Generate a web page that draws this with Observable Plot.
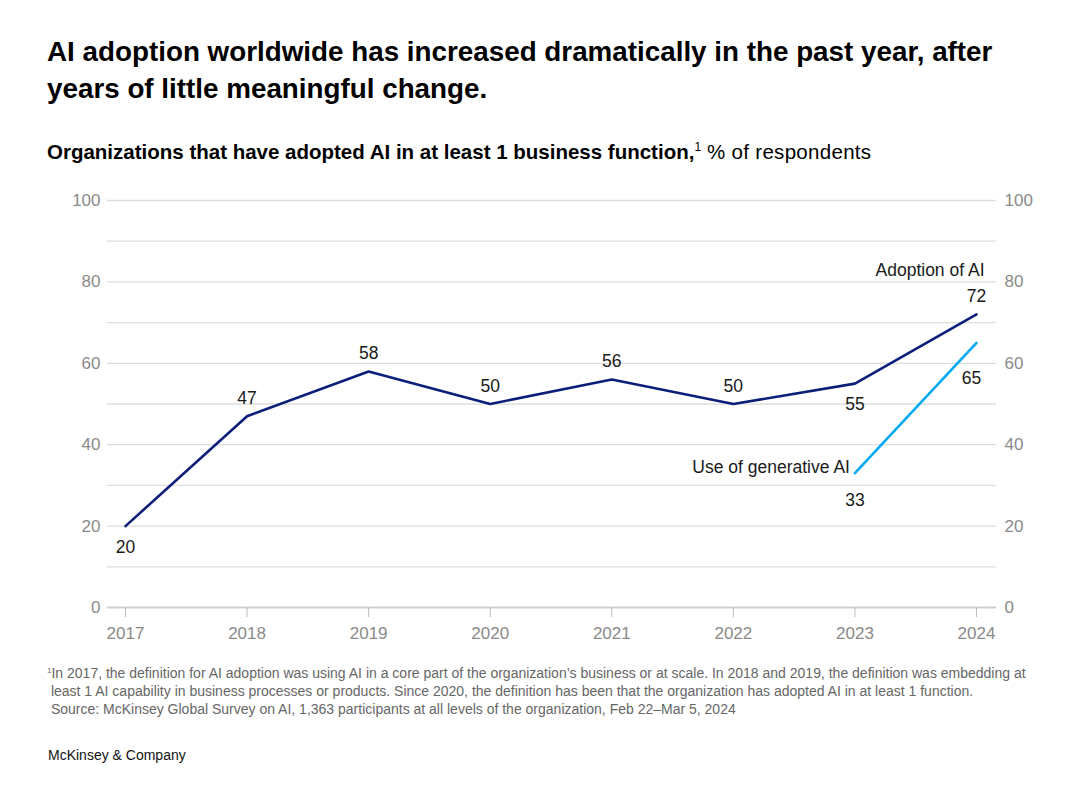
<!DOCTYPE html>
<html>
<head>
<meta charset="utf-8">
<script src="https://cdn.jsdelivr.net/npm/d3@7"></script>
<script src="https://cdn.jsdelivr.net/npm/@observablehq/plot@0.6"></script>
<style>
  html, body { margin: 0; padding: 0; background: #fff; }
  body { width: 1081px; height: 800px; position: relative; font-family: "Liberation Sans", Arial, sans-serif; color: #000; }
  #title { position: absolute; left: 47px; top: 33px; font-size: 27.8px; font-weight: bold; line-height: 37px; white-space: nowrap; }
  #subtitle { position: absolute; left: 47px; top: 139px; font-size: 20.5px; line-height: 26px; white-space: nowrap; }
  #subtitle b { font-weight: bold; }
  #subtitle .reg { letter-spacing: 0.3px; }
  #subtitle sup { font-size: 12px; vertical-align: 8px; line-height: 0; }
  #chart { position: absolute; left: 0; top: 180px; }
  #foot { position: absolute; left: 47px; top: 664px; font-size: 14px; line-height: 18px; color: #666; white-space: nowrap; }
  #foot sup { font-size: 8px; vertical-align: 5px; line-height: 0; }
  #brand { position: absolute; left: 48px; top: 747px; font-size: 14px; color: #111; }
</style>
</head>
<body>
<div id="title">AI adoption worldwide has increased dramatically in the past year, after<br>years of little meaningful change.</div>
<div id="subtitle"><b>Organizations that have adopted AI in at least 1 business function,</b><sup>1</sup><span class="reg"> % of respondents</span></div>
<div id="chart"></div>
<div id="foot"><sup>1</sup>In 2017, the definition for AI adoption was using AI in a core part of the organization’s business or at scale. In 2018 and 2019, the definition was embedding at<br>&nbsp;least 1 AI capability in business processes or products. Since 2020, the definition has been that the organization has adopted AI in at least 1 function.<br>&nbsp;Source: McKinsey Global Survey on AI, 1,363 participants at all levels of the organization, Feb 22–Mar 5, 2024</div>
<div id="brand">McKinsey &amp; Company</div>
<script>
// ---- data ----
const years = [2017, 2018, 2019, 2020, 2021, 2022, 2023, 2024];
const adoption = [20, 47, 58, 50, 56, 50, 55, 72];
const genaiYears = [2023, 2024];
const genai = [33, 65];
const yTicks = [0, 20, 40, 60, 80, 100];
const gridValues = [10, 20, 30, 40, 50, 60, 70, 80, 90, 100];
const seriesNames = ["Adoption of AI", "Use of generative AI"];

// ---- build tables ----
const adoptData = years.map((y, i) => ({year: y, value: adoption[i]}));
const genData = genaiYears.map((y, i) => ({year: y, value: genai[i]}));
// label placement (style, not data): which adoption labels sit below the line
const belowYears = new Set([2017, 2023]);
const adoptAbove = adoptData.filter(d => !belowYears.has(d.year));
const adoptBelow = adoptData.filter(d => belowYears.has(d.year));

const navy = "#0b1f7a";
const cyan = "#00a9f4";
const font = "Liberation Sans, Arial, sans-serif";
const padL = 18 / 121.6, padR = 20 / 121.6;

const chart = Plot.plot({
  width: 1081,
  height: 480,
  marginTop: 20,
  marginBottom: 53,
  marginLeft: 107,
  marginRight: 85,
  style: {fontFamily: font, background: "transparent", overflow: "visible"},
  x: {domain: [2017 - padL, 2024 + padR]},
  y: {domain: [0, 100]},
  marks: [
    Plot.ruleY(gridValues, {stroke: "#dedede", strokeWidth: 1.3}),
    Plot.ruleY([0], {stroke: "#cfcfcf", strokeWidth: 2}),
    Plot.axisY(yTicks, {anchor: "left", tickSize: 0, tickPadding: 7, fontSize: 17, fill: "#8a8a8a", label: null}),
    Plot.axisY(yTicks, {anchor: "right", tickSize: 0, tickPadding: 8, fontSize: 17, fill: "#8a8a8a", label: null}),
    Plot.axisX(years, {anchor: "bottom", tickSize: 10, tickPadding: 9, fontSize: 17, fill: "#8a8a8a", stroke: "#bcbcbc", tickFormat: d => String(d), label: null}),
    Plot.line(adoptData, {x: "year", y: "value", stroke: navy, strokeWidth: 2.6}),
    Plot.line(genData, {x: "year", y: "value", stroke: cyan, strokeWidth: 2.6}),
    Plot.text(adoptAbove, {x: "year", y: "value", text: d => String(d.value), dy: -18, fontSize: 17.5, fill: "#1a1a1a"}),
    Plot.text(adoptBelow, {x: "year", y: "value", text: d => String(d.value), dy: 21, fontSize: 17.5, fill: "#1a1a1a"}),
    Plot.text(genData.slice(0, 1), {x: "year", y: "value", text: d => String(d.value), dy: 27, fontSize: 17.5, fill: "#1a1a1a"}),
    Plot.text(genData.slice(1), {x: "year", y: "value", text: d => String(d.value), dy: 35, dx: -5, fontSize: 17.5, fill: "#1a1a1a"}),
    Plot.text(adoptData.slice(-1), {x: "year", y: "value", text: () => seriesNames[0], dy: -44, dx: 8, textAnchor: "end", fontSize: 17.5, fill: "#1a1a1a"}),
    Plot.text(genData.slice(0, 1), {x: "year", y: "value", text: () => seriesNames[1], dy: -6, dx: -5, textAnchor: "end", fontSize: 17.5, fill: "#1a1a1a"})
  ]
});
document.getElementById("chart").appendChild(chart);
</script>
</body>
</html>
